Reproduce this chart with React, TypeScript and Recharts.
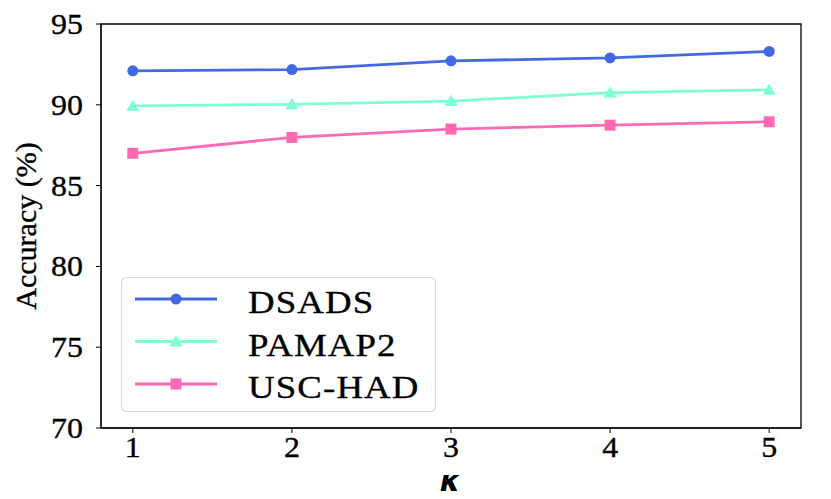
import { LineChart, Line, XAxis, YAxis, ReferenceArea } from "recharts";

const kValues = [1, 2, 3, 4, 5];
const dsads = [92.1, 92.18, 92.72, 92.9, 93.3];
const pamap2 = [89.93, 90.03, 90.23, 90.75, 90.93];
const uscHad = [87.0, 87.98, 88.5, 88.74, 88.95];
const yTicks = [70, 75, 80, 85, 90, 95];

const SERIES = [
  { key: "dsads", name: "DSADS", color: "#4169E1", shape: "circle" },
  { key: "pamap2", name: "PAMAP2", color: "#7FFFD4", shape: "triangle" },
  { key: "uscHad", name: "USC-HAD", color: "#FF69B4", shape: "square" },
];

const data = kValues.map((k, i) => ({
  k,
  dsads: dsads[i],
  pamap2: pamap2[i],
  uscHad: uscHad[i],
}));

const serif = "'Liberation Serif', 'DejaVu Serif', serif";

function Marker({ cx, cy, shape, color }: any) {
  if (cx == null || cy == null) return null;
  if (shape === "circle") return <circle cx={cx} cy={cy} r={5.5} fill={color} />;
  if (shape === "triangle") {
    const s = 6.5;
    return <polygon points={`${cx},${cy - s} ${cx - s},${cy + s * 0.75} ${cx + s},${cy + s * 0.75}`} fill={color} />;
  }
  return <rect x={cx - 5.5} y={cy - 5.5} width={11} height={11} fill={color} />;
}

// stretched serif text, like the reference's rendering
function WideText({ x, y, anchor, children, size }: any) {
  return (
    <text
      transform={`translate(${x} ${y}) scale(1.1 1)`}
      textAnchor={anchor}
      fontFamily={serif}
      fontSize={size}
      fill="#000"
      stroke="#000"
      strokeWidth={0.35}
    >
      {children}
    </text>
  );
}

function XTick({ x, y, payload }: any) {
  return (
    <WideText x={x} y={y + 20} anchor="middle" size={29}>
      {payload.value}
    </WideText>
  );
}

function YTick({ x, y, payload }: any) {
  return (
    <WideText x={x} y={y + 10} anchor="end" size={29}>
      {payload.value}
    </WideText>
  );
}

function LegendBox() {
  return (
    <svg width={318} height={138} style={{ position: "absolute", left: 120, top: 276 }}>
      <rect x={1.5} y={1.5} width={314} height={134} rx={5} fill="#fff" fillOpacity={0.85} stroke="#d9d9d9" strokeWidth={1.2} />
      {SERIES.map((s, i) => {
        const y = 23 + i * 42.5;
        return (
          <g key={s.key}>
            <line x1={15} x2={97} y1={y} y2={y} stroke={s.color} strokeWidth={2.8} />
            <Marker cx={56} cy={y} shape={s.shape} color={s.color} />
            <text
              transform={`translate(128 ${y + 14}) scale(1.15 1)`}
              fontFamily={serif}
              fontSize={32}
              letterSpacing={1}
              fill="#000"
              stroke="#000"
              strokeWidth={0.35}
            >
              {s.name}
            </text>
          </g>
        );
      })}
    </svg>
  );
}

export default function App() {
  return (
    <div style={{ position: "absolute", left: 0, top: 0, width: 831, height: 499, background: "#fff" }}>
      <LineChart width={831} height={499} data={data} margin={{ top: 24, right: 30, left: 41, bottom: 21 }}>
        <XAxis
          dataKey="k"
          type="number"
          domain={[0.8, 5.2]}
          ticks={kValues}
          allowDataOverflow
          stroke="#000"
          tickSize={5}
          tickMargin={4}
          height={50}
          tick={<XTick />}
        />
        <YAxis
          type="number"
          domain={[70, 95]}
          ticks={yTicks}
          stroke="#000"
          tickSize={5}
          tickMargin={13}
          width={60}
          tick={<YTick />}
        />
        <ReferenceArea x1={0.8} x2={5.2} y1={70} y2={95} fill="none" stroke="#000" strokeWidth={1.3} />
        {SERIES.map((s) => (
          <Line
            key={s.key}
            dataKey={s.key}
            name={s.name}
            stroke={s.color}
            strokeWidth={2.8}
            isAnimationActive={false}
            dot={(p: any) => <Marker key={`${s.key}-${p.index}`} cx={p.cx} cy={p.cy} shape={s.shape} color={s.color} />}
            activeDot={false}
          />
        ))}
        <text
          x={25}
          y={226}
          transform="rotate(-90 25 226) scale(1 1)"
          textAnchor="middle"
          dominantBaseline="central"
          fontFamily={serif}
          fontSize={30}
          fill="#000"
          stroke="#000"
          strokeWidth={0.35}
        >
          Accuracy (%)
        </text>
        <text
          x={450}
          y={491}
          textAnchor="middle"
          fontFamily="'DejaVu Sans', sans-serif"
          fontWeight="bold"
          fontStyle="italic"
          fontSize={29}
          fill="#000"
        >
          κ
        </text>
      </LineChart>
      <LegendBox />
    </div>
  );
}
